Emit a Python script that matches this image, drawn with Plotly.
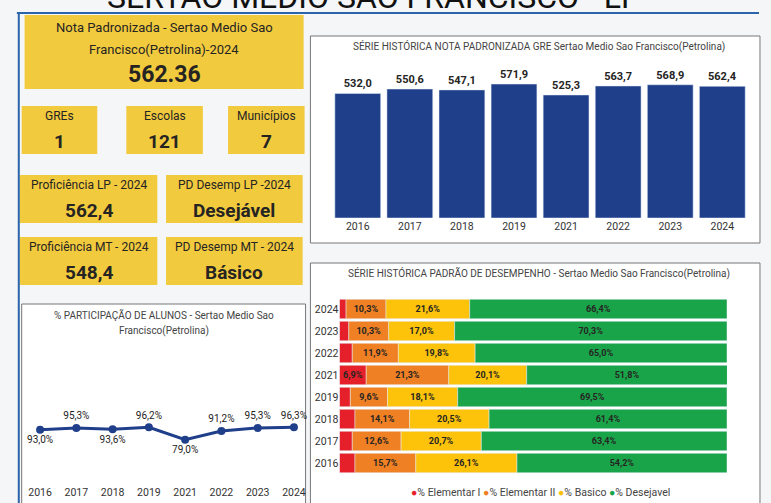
"""
Painel de proficiencia - Sertao Medio Sao Francisco (Petrolina), LP.
"""

import plotly.graph_objects as go

W, H = 771, 503

anos_nota = ["2016", "2017", "2018", "2019", "2021", "2022", "2023", "2024"]
nota_padronizada = [532.0, 550.6, 547.1, 571.9, 525.3, 563.7, 568.9, 562.4]

anos_padrao = ["2024", "2023", "2022", "2021", "2019", "2018", "2017", "2016"]
elementar_1 = [1.7, 2.4, 3.3, 6.9, 2.8, 4.0, 3.3, 4.0]
elementar_2 = [10.3, 10.3, 11.9, 21.3, 9.6, 14.1, 12.6, 15.7]
basico = [21.6, 17.0, 19.8, 20.1, 18.1, 20.5, 20.7, 26.1]
desejavel = [66.4, 70.3, 65.0, 51.8, 69.5, 61.4, 63.4, 54.2]

anos_part = ["2016", "2017", "2018", "2019", "2021", "2022", "2023", "2024"]
participacao = [93.0, 95.3, 93.6, 96.2, 79.0, 91.2, 95.3, 96.3]
pos_rotulo = ["bottom center", "top center", "bottom center", "top center",
              "bottom center", "top center", "top center", "top center"]

cartoes = [
    ("GREs", "1"), ("Escolas", "121"), ("Municípios", "7"),
    ("Proficiência LP - 2024", "562,4"), ("PD Desemp LP -2024", "Desejável"),
    ("Proficiência MT - 2024", "548,4"), ("PD Desemp MT - 2024", "Básico"),
]

FONT = "Roboto, sans-serif"
AMARELO = "#F2CA3E"
AZUL = "#1F3F8A"
TEXTO = "#252423"
CORES = {"% Elementar I": "#E6202A", "% Elementar II": "#F08024",
         "% Basico": "#FCC30A", "% Desejavel": "#1AA44A"}


def px(x):
    return x / W


def py(y):
    return 1 - y / H


def br(v, casas=1, suf=""):
    return f"{v:.{casas}f}".replace(".", ",") + suf


fig = go.Figure()

# serie historica nota padronizada
fig.add_trace(go.Bar(
    x=anos_nota, y=nota_padronizada, marker_color=AZUL,
    text=[f"<b>{br(v)}</b>" for v in nota_padronizada],
    textposition="outside",
    textfont={"size": 11, "color": TEXTO, "family": FONT},
    cliponaxis=False, xaxis="x", yaxis="y", showlegend=False,
))

# serie historica padrao de desempenho
for nome, valores in zip(CORES, [elementar_1, elementar_2, basico, desejavel]):
    fig.add_trace(go.Bar(
        y=anos_padrao, x=valores, orientation="h", name=nome,
        marker_color=CORES[nome],
        text=[f"<b>{br(v, suf='%')}</b>" if v >= 5 else "" for v in valores],
        textposition="inside", insidetextanchor="middle",
        textfont={"size": 9, "color": TEXTO, "family": FONT},
        xaxis="x2", yaxis="y2", showlegend=False,
    ))

# participacao de alunos
fig.add_trace(go.Scatter(
    x=anos_part, y=participacao, mode="lines+markers+text",
    line={"color": AZUL, "width": 3}, marker={"size": 8, "color": AZUL},
    text=[br(v, suf="%") for v in participacao], textposition=pos_rotulo,
    textfont={"size": 10, "color": TEXTO, "family": FONT},
    cliponaxis=False, xaxis="x3", yaxis="y3", showlegend=False,
))

shapes = []
annotations = []


def caixa(x0, y0, x1, y1, cor, borda=None):
    shapes.append({
        "type": "rect", "xref": "paper", "yref": "paper", "layer": "below",
        "x0": px(x0), "x1": px(x1), "y0": py(y1), "y1": py(y0),
        "fillcolor": cor,
        "line": {"color": borda or cor, "width": 1 if borda else 0},
    })


def texto(x, y, s, size=12, bold=False, cor=TEXTO):
    annotations.append({
        "xref": "paper", "yref": "paper", "x": px(x), "y": py(y),
        "text": f"<b>{s}</b>" if bold else s, "showarrow": False,
        "xanchor": "center", "yanchor": "middle",
        "font": {"size": size, "color": cor, "family": FONT},
    })


# paineis dos graficos
caixa(308, 36, 772, 243, "white", "#777777")
caixa(308, 263, 772, 505, "white", "#777777")
caixa(10, 304, 303, 505, "white", "#777777")

# cartoes amarelos
caixa(13, 15, 301, 89, AMARELO)
texto(157, 27, "Nota Padronizada - Sertao Medio Sao", 13)
texto(157, 49, "Francisco(Petrolina)-2024", 13)
texto(157, 74, "562.36", 23, bold=True)

posicoes = [
    (10, 106, 88, 154), (118, 106, 197, 154), (223, 106, 302, 154),
    (8, 175, 150, 223), (159, 175, 300, 223),
    (8, 237, 150, 285), (159, 237, 300, 285),
]
for (rotulo, valor), (x0, y0, x1, y1) in zip(cartoes, posicoes):
    caixa(x0, y0, x1, y1, AMARELO)
    cx = (x0 + x1) / 2
    texto(cx, y0 + 10, rotulo, 12)
    texto(cx, y0 + 35, valor, 19, bold=True)

# linhas azuis da moldura
shapes.append({"type": "line", "xref": "paper", "yref": "paper",
               "x0": px(5), "x1": 1, "y0": py(13), "y1": py(13),
               "line": {"color": "#2B64A8", "width": 2}})
shapes.append({"type": "line", "xref": "paper", "yref": "paper",
               "x0": px(7), "x1": px(7), "y0": py(13), "y1": 0,
               "line": {"color": "#2B64A8", "width": 2}})

# titulos
texto(374, -3, "SERTAO MEDIO SAO FRANCISCO - LP", 32, cor="#111111")
texto(544, 47, "SÉRIE HISTÓRICA NOTA PADRONIZADA GRE Sertao Medio Sao "
      "Francisco(Petrolina)", 10, cor="#444444")
texto(544, 273, "SÉRIE HISTÓRICA PADRÃO DE DESEMPENHO - Sertao Medio Sao "
      "Francisco(Petrolina)", 10, cor="#444444")
texto(157, 315, "% PARTICIPAÇÃO DE ALUNOS - Sertao Medio Sao", 10,
      cor="#444444")
texto(157, 331, "Francisco(Petrolina)", 10, cor="#444444")

legenda = " ".join(
    f"<span style='color:{cor}'>●</span>{nome}" for nome, cor in CORES.items()
)
texto(545, 492, legenda, 10.5, cor="#444444")

eixo_x = {"showgrid": False, "zeroline": False, "showline": False,
          "ticks": "", "tickfont": {"size": 10.5, "color": "#333333",
                                    "family": FONT}}
eixo_y_oculto = {"showgrid": False, "zeroline": False,
                 "showticklabels": False, "fixedrange": True}

fig.update_layout(
    width=W, height=H, margin={"l": 0, "r": 0, "t": 0, "b": 0},
    paper_bgcolor="#F4F6F8", plot_bgcolor="rgba(0,0,0,0)",
    barmode="relative", bargap=0.12,
    font={"family": FONT, "color": TEXTO},
    xaxis={**eixo_x, "domain": [px(330), px(760)], "type": "category",
           "anchor": "y"},
    yaxis={**eixo_y_oculto, "domain": [py(218), py(70)], "range": [0, 632],
           "anchor": "x"},
    xaxis2={**eixo_y_oculto, "domain": [px(338), px(738)], "range": [0, 100],
            "anchor": "y2"},
    yaxis2={**eixo_x, "domain": [py(474), py(298)], "type": "category",
            "autorange": "reversed", "anchor": "x2"},
    xaxis3={**eixo_x, "domain": [px(29), px(291)], "type": "category",
            "range": [0, 7], "anchor": "y3"},
    yaxis3={**eixo_y_oculto, "domain": [py(484), py(360)],
            "range": [17.5, 189.7], "anchor": "x3"},
    shapes=shapes, annotations=annotations,
)

fig.write_html(
    "out.html",
    config={"displayModeBar": False},
    post_script="document.body.style.margin='0';"
    "document.body.style.overflow='hidden';",
)
